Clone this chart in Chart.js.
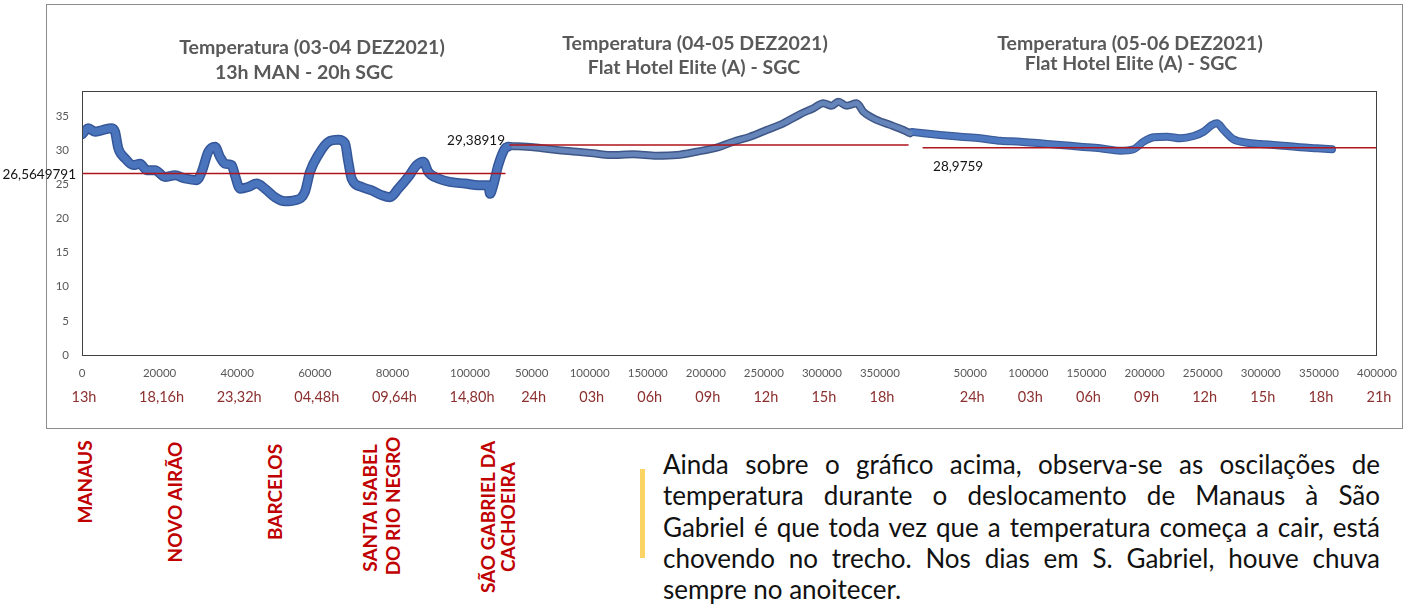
<!DOCTYPE html>
<html>
<head>
<meta charset="utf-8">
<script src="https://cdn.jsdelivr.net/npm/chart.js@4.4.1/dist/chart.umd.min.js"></script>
<style>
  body { margin: 0; background: #fff; width: 1408px; height: 604px; overflow: hidden; position: relative; font-family: Lato, sans-serif; }
  #frame { position: absolute; left: 46px; top: 4px; width: 1355px; height: 423px; border: 1px solid #8c8c8c; }
  #wrap { position: absolute; left: 0; top: 0; width: 1408px; height: 430px; }
  .title { position: absolute; transform: translateX(-50%); white-space: nowrap; font-weight: bold; font-size: 19.5px; color: #595959; line-height: 20px; }
  .city { position: absolute; transform: translate(-50%, -50%) rotate(-90deg); white-space: nowrap; font-weight: bold; font-size: 19px; color: #c00000; line-height: 20px; }
  #bar { position: absolute; left: 640px; top: 469px; width: 5px; height: 89px; background: #fbd464; }
  #note { position: absolute; left: 663px; top: 449px; width: 717px; font-size: 26px; line-height: 31.3px; color: #111; }
  #note div { text-align: justify; text-align-last: justify; }
  #note div.last { text-align-last: left; }
</style>
</head>
<body>
<div id="frame"></div>
<div id="wrap"><canvas id="chart" width="1408" height="430"></canvas></div>

<div class="title" style="left:312px; top:37px;">Temperatura (03-04 DEZ2021)</div>
<div class="title" style="left:304px; top:62px;">13h MAN - 20h SGC</div>
<div class="title" style="left:695px; top:33px;">Temperatura (04-05 DEZ2021)</div>
<div class="title" style="left:694px; top:57px;">Flat Hotel Elite (A) - SGC</div>
<div class="title" style="left:1130px; top:33px;">Temperatura (05-06 DEZ2021)</div>
<div class="title" style="left:1131px; top:53px;">Flat Hotel Elite (A) - SGC</div>

<div class="city" style="left:85px; top:482px;">MANAUS</div>
<div class="city" style="left:175px; top:502px;">NOVO AIRÃO</div>
<div class="city" style="left:275px; top:492px;">BARCELOS</div>
<div class="city" style="left:370px; top:508px;">SANTA ISABEL</div>
<div class="city" style="left:393px; top:506px;">DO RIO NEGRO</div>
<div class="city" style="left:488px; top:517px;">SÃO GABRIEL DA</div>
<div class="city" style="left:508px; top:517px;">CACHOEIRA</div>

<div id="bar"></div>
<div id="note">
  <div>Ainda sobre o gráfico acima, observa-se as oscilações de</div>
  <div>temperatura durante o deslocamento de Manaus à São</div>
  <div>Gabriel é que toda vez que a temperatura começa a cair, está</div>
  <div>chovendo no trecho. Nos dias em S. Gabriel, houve chuva</div>
  <div class="last">sempre no anoitecer.</div>
</div>

<script>
// trecho 1: viagem Manaus -> SGC (03-04 dez)
const panel1Time = [0, 1620, 3350, 5080, 7650, 8500, 9360, 11080, 13220, 14950,
  16680, 18810, 21390, 23970, 26550, 29560, 30850, 32550, 34280, 35570,
  36860, 38580, 39430, 40720, 42860, 45030, 47160, 49740, 52320, 54900,
  57470, 58760, 60900, 63480, 66060, 67780, 68630, 69510, 72090, 74660,
  77240, 79380, 81520, 84100, 86260, 87970, 89250, 91830, 95280, 98710,
  102140, 104720, 105150, 106000, 107290, 109020, 109800];
const panel1Temp = [32.3, 33.2, 32.7, 32.9, 33.2, 32.7, 30.25, 28.8, 27.8, 28.0,
  27.06, 27.06, 26.07, 26.3, 25.84, 25.6, 26.8, 29.75, 30.5, 29.0,
  28.0, 27.8, 26.3, 24.35, 24.6, 25.1, 24.35, 23.1, 22.5, 22.65,
  23.9, 26.8, 29.3, 31.2, 31.5, 31.0, 28.3, 25.8, 24.6, 24.1,
  23.4, 23.1, 24.35, 26.07, 27.8, 28.3, 26.8, 25.84, 25.3, 25.1,
  24.85, 24.85, 23.6, 24.85, 27.8, 30.25, 30.5];

// trecho 2: Flat Hotel Elite (04-05 dez)
const panel2Time = [31350, 51420, 71580, 88800, 103100, 117490, 137550, 157710, 174940, 192160,
  209390, 223690, 238070, 252450, 266750, 281140, 292590, 301210, 308440, 314130,
  321360, 329980, 335660, 347200, 358660, 370120, 375890];
const panel2Temp = [29.24, 29.05, 28.65, 28.4, 28.17, 27.92, 28.02, 27.82, 27.92, 28.4,
  28.99, 29.87, 30.6, 31.58, 32.56, 33.88, 34.76, 35.49, 35.14, 35.72,
  35.14, 35.49, 34.26, 33.05, 32.34, 31.58, 31.1];

// trecho 3: Flat Hotel Elite (05-06 dez)
const panel3Time = [0, 9810, 24180, 41390, 58600, 75820, 93030, 110240, 127450, 144660,
  161880, 179090, 190530, 199140, 207750, 219280, 230720, 242170, 250770, 258000,
  262310, 267990, 276590, 288120, 299570, 311010, 322550, 333990, 348360, 361270];
const panel3Temp = [31.3, 31.1, 30.85, 30.6, 30.37, 30.0, 29.87, 29.63, 29.39, 29.14,
  28.9, 28.55, 28.76, 29.87, 30.51, 30.6, 30.37, 30.7, 31.33, 32.3,
  32.56, 31.58, 30.22, 29.72, 29.53, 29.39, 29.24, 29.05, 28.9, 28.76];

// medias (linhas vermelhas)
const avgValues = [26.5649791, 29.38919, 28.9759];
const avgLabels = ['26,5649791', '29,38919', '28,9759'];
const avgStart = [0, 31350, 9470];
const avgEnd = [109000, 374200, 400000];

// eixos x
const ticks1 = [0, 20000, 40000, 60000, 80000, 100000];
const hours1 = ['13h', '18,16h', '23,32h', '04,48h', '09,64h', '14,80h'];
const ticks2 = [50000, 100000, 150000, 200000, 250000, 300000, 350000];
const hours2 = ['24h', '03h', '06h', '09h', '12h', '15h', '18h'];
const ticks3 = [50000, 100000, 150000, 200000, 250000, 300000, 350000, 400000];
const hours3 = ['24h', '03h', '06h', '09h', '12h', '15h', '18h', '21h'];

Chart.defaults.font.family = 'Lato, sans-serif';

const pts = (xs, ys) => xs.map((x, i) => ({ x: x, y: ys[i] }));
const avgPts = (i) => [{ x: avgStart[i], y: avgValues[i] }, { x: avgEnd[i], y: avgValues[i] }];

const lineDs = (data, xId, yId, color, width, order) => ({
  data: data, xAxisID: xId, yAxisID: yId,
  borderColor: color, borderWidth: width, pointRadius: 0,
  cubicInterpolationMode: 'monotone', borderCapStyle: 'round', borderJoinStyle: 'round',
  order: order
});

const datasets = [
  lineDs(avgPts(0), 'x1', 'y', '#b0141c', 1.5, 0),
  lineDs(avgPts(1), 'x2', 'y2', '#b0141c', 1.5, 0),
  lineDs(avgPts(2), 'x3', 'y2', '#b0141c', 1.5, 0),
  lineDs(pts(panel1Time, panel1Temp), 'x1', 'y', '#4a74bb', 7, 1),
  lineDs(pts(panel1Time, panel1Temp), 'x1', 'y', '#35579a', 10, 2),
  lineDs(pts(panel2Time, panel2Temp), 'x2', 'y2', '#6584ba', 5, 1),
  lineDs(pts(panel2Time, panel2Temp), 'x2', 'y2', '#3f5786', 8, 2),
  lineDs(pts(panel3Time, panel3Temp), 'x3', 'y2', '#4e79c0', 5.5, 1),
  lineDs(pts(panel3Time, panel3Temp), 'x3', 'y2', '#3c5d9b', 8, 2)
];

const overlay = {
  id: 'overlay',
  afterDraw(chart) {
    const { ctx, chartArea: a, scales } = chart;
    ctx.save();
    ctx.strokeStyle = '#404040';
    ctx.lineWidth = 1;
    ctx.strokeRect(a.left + 0.5, a.top + 0.5, a.right - a.left - 1, a.bottom - a.top);

    // rotulos das medias
    ctx.fillStyle = '#141414';
    ctx.font = '13.5px Lato';
    ctx.textBaseline = 'middle';
    ctx.textAlign = 'right';
    ctx.fillText(avgLabels[0], 76, scales.y.getPixelForValue(avgValues[0]) + 1);
    ctx.fillText(avgLabels[1], scales.x2.getPixelForValue(avgStart[1]) - 5, scales.y2.getPixelForValue(avgValues[1]) - 4);
    ctx.textAlign = 'left';
    ctx.fillText(avgLabels[2], scales.x3.getPixelForValue(avgStart[2]) + 10, scales.y2.getPixelForValue(avgValues[2]) + 19);

    // eixos x (valor + hora)
    ctx.textAlign = 'center';
    [[scales.x1, ticks1, hours1], [scales.x2, ticks2, hours2], [scales.x3, ticks3, hours3]].forEach(([sc, tk, hr]) => {
      tk.forEach((v, i) => {
        const px = sc.getPixelForValue(v);
        ctx.fillStyle = '#595959';
        ctx.font = '11.5px Lato';
        ctx.fillText(String(v), px, 373);
        ctx.fillStyle = '#8c2f2f';
        ctx.font = '14.5px Lato';
        ctx.fillText(hr[i], px + 2, 397);
      });
    });
    ctx.restore();
  }
};

new Chart(document.getElementById('chart'), {
  type: 'line',
  data: { datasets: datasets },
  options: {
    responsive: false,
    animation: false,
    layout: { padding: { left: 0, right: 31, top: 91, bottom: 75 } },
    plugins: { legend: { display: false }, tooltip: { enabled: false } },
    scales: {
      x1: { type: 'linear', min: 0, max: 333763, display: false },
      x2: { type: 'linear', min: -337295, max: 778122, display: false },
      x3: { type: 'linear', min: -714200, max: 400000, display: false },
      y: {
        position: 'left', min: 0, max: 38.65,
        grid: { display: false, drawTicks: false },
        border: { display: false },
        ticks: {
          stepSize: 5, padding: 13, color: '#595959', font: { size: 11.5 },
          callback: (v) => (v % 5 === 0 ? v : '')
        },
        afterFit: (s) => { s.width = 82; }
      },
      y2: { min: -1.36, max: 37.29, display: false }
    }
  },
  plugins: [overlay]
});
</script>
</body>
</html>
